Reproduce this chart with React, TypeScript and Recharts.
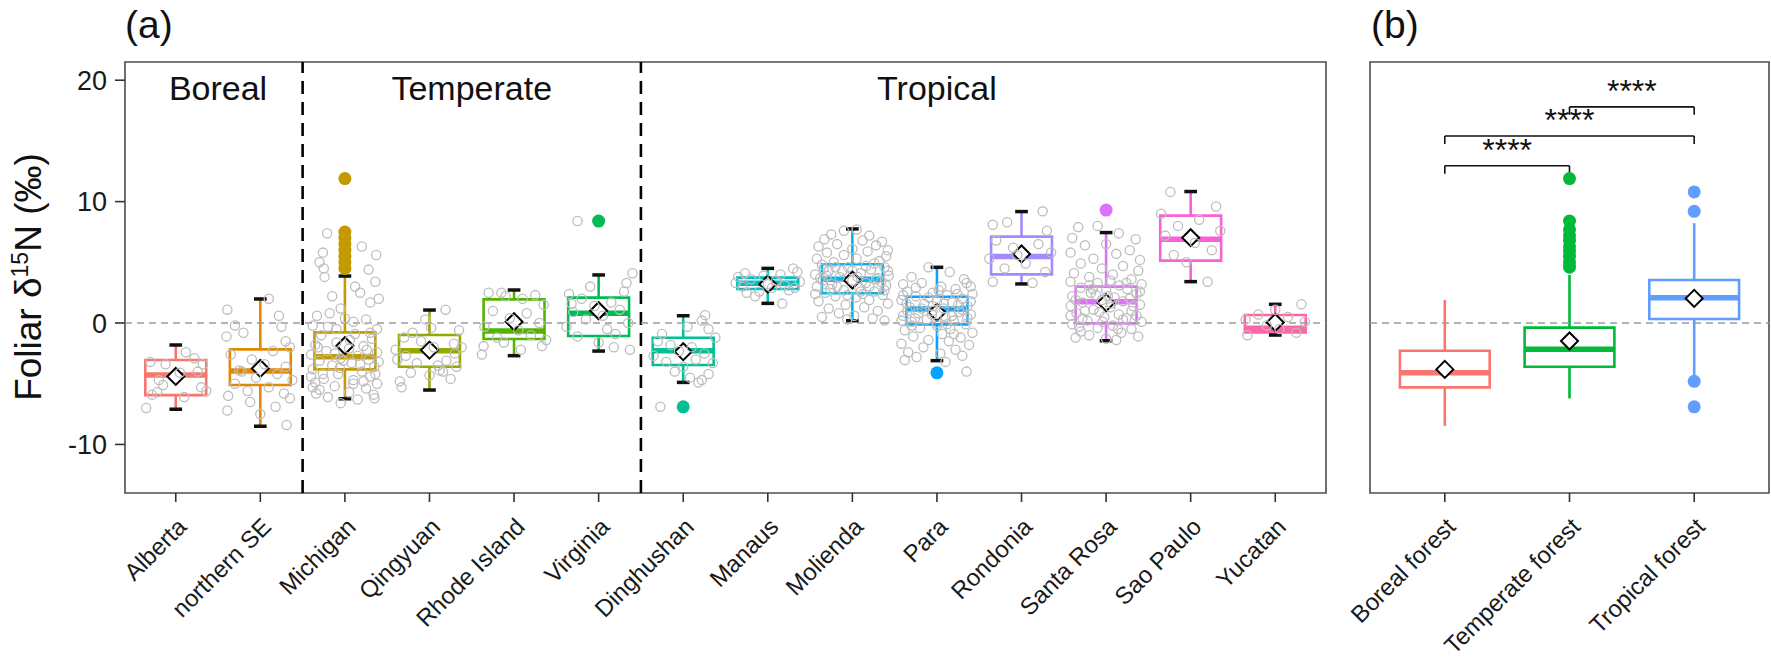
import React from "react";
import {
  ComposedChart,
  XAxis,
  YAxis,
  Scatter,
  ReferenceLine,
  ReferenceArea,
} from "recharts";

const FONT = "'Liberation Sans', Arial, Helvetica, sans-serif";

// ---- panel (a): sites ----
const sites = [
  "Alberta", "northern SE", "Michigan", "Qingyuan", "Rhode Island", "Virginia",
  "Dinghushan", "Manaus", "Molienda", "Para", "Rondonia", "Santa Rosa",
  "Sao Paulo", "Yucatan",
];
const siteColors = [
  "#F8766D", "#E38900", "#C49A00", "#99A800", "#53B400", "#00BC56", "#00C094",
  "#00BFC4", "#00B6EB", "#06A4FF", "#A58AFF", "#DF70F8", "#FB61D7", "#FF66A8",
];
const siteLow = [-7.1, -8.5, -6.24, -5.52, -2.69, -2.31, -4.89, 1.62, 0.19, -3.1, 3.22, -1.46, 3.41, -0.99];
const siteQ1 = [-5.94, -5.11, -3.82, -3.6, -1.32, -1.07, -3.46, 2.8, 2.45, -0.11, 4.01, -0.03, 5.14, -0.77];
const siteMedian = [-4.29, -3.96, -2.77, -2.28, -0.66, 0.8, -2.28, 3.27, 3.6, 1.15, 5.47, 1.76, 6.9, -0.44];
const siteQ3 = [-3.05, -2.17, -0.77, -0.99, 1.95, 2.09, -1.21, 3.74, 4.84, 2.17, 7.12, 3.0, 8.85, 0.66];
const siteHigh = [-1.81, 1.98, 3.87, 1.07, 2.72, 3.96, 0.6, 4.5, 7.75, 4.59, 9.18, 7.45, 10.83, 1.54];
const siteMean = [-4.4, -3.74, -1.87, -2.23, 0.11, 1.01, -2.36, 3.2, 3.54, 0.88, 5.69, 1.68, 7.03, 0.05];

const outlierSite = [3, 3, 3, 3, 3, 3, 3, 3, 6, 7, 10, 12];
const outlierValue = [11.9, 7.5, 7.0, 6.5, 6.0, 5.5, 5.0, 4.5, 8.4, -6.9, -4.1, 9.3];

const regionLabels = ["Boreal", "Temperate", "Tropical"];
const regionX = [1.5, 4.5, 10];
const regionY = [18.4, 18.4, 18.4];
const regionBreaks = [2.5, 6.5];

// raw observations: [offset from site, value]
const jitterAlberta = [
  [-0.35, -7.0], [-0.28, -5.9], [-0.22, -5.7], [0.3, -5.3], [0.36, -5.6], [0.12, -2.4], [0.22, -2.9],
  [-0.12, -3.4], [0.05, -4.1], [-0.2, -4.7], [0.26, -4.0], [-0.15, -5.1], [0.1, -6.1], [-0.3, -3.2], [0.32, -3.4],
];
const jitterNorthernSE = [
  [-0.39, 1.1], [0.1, 2.0], [-0.3, -0.2], [0.22, 0.6], [0.25, -0.3], [-0.4, -1.1], [0.3, -1.5], [-0.2, -0.8],
  [0.35, -2.0], [-0.35, -2.6], [0.15, -2.3], [-0.1, -3.0], [0.05, -3.4], [0.3, -3.6], [-0.25, -3.9], [0.2, -4.2],
  [-0.05, -4.5], [0.38, -4.7], [-0.3, -5.0], [0.1, -5.3], [-0.15, -5.6], [0.28, -5.8], [-0.38, -6.0], [0.35, -6.2],
  [-0.39, -7.2], [0.18, -6.9], [0.31, -8.4], [-0.12, -6.5], [0.0, -7.5], [-0.22, -4.0],
];
const jitterMichigan = [
  [-0.21, 7.4], [-0.26, 5.8], [0.2, 6.3], [0.37, 5.6], [-0.25, 4.5], [-0.24, 3.8], [0.36, 3.4], [0.18, 2.5],
  [0.4, 2.0], [0.3, 1.7], [-0.33, 0.6], [-0.18, 0.8], [-0.05, 1.2], [0.25, 0.3], [0.1, 0.1], [-0.38, -0.2],
  [0.38, -0.5], [-0.28, -1.0], [0.12, -0.9], [0.32, -1.3], [-0.1, -1.6], [-0.35, -1.8], [0.22, -1.9], [0.05, -2.1],
  [-0.22, -2.3], [0.38, -2.4], [-0.4, -2.6], [0.15, -2.7], [-0.05, -2.9], [0.28, -3.0], [-0.3, -3.1], [0.08, -3.3],
  [-0.15, -3.5], [0.35, -3.6], [-0.38, -3.8], [0.2, -4.0], [-0.08, -4.2], [0.3, -4.4], [-0.25, -4.6], [0.1, -4.7],
  [-0.35, -4.9], [0.38, -5.0], [-0.12, -5.2], [0.25, -5.4], [-0.3, -5.5], [0.05, -5.7], [0.34, -5.9], [-0.2, -6.1],
  [0.15, -6.3], [-0.05, -6.6], [0.35, -6.2], [-0.38, -5.3], [0.0, 0.4], [-0.15, 2.2], [0.12, 3.0], [-0.3, 5.0],
  [0.28, 4.4], [-0.1, -0.5], [-0.32, -2.0], [0.26, -2.2], [-0.06, -3.7], [0.18, -3.4], [-0.26, -4.2], [0.4, -3.2],
  [-0.4, -4.4], [0.06, -1.4], [-0.2, -0.3], [0.3, -0.8], [-0.12, -2.5], [0.22, -4.8], [-0.34, -5.8], [0.1, -5.0],
  [0.36, -4.2], [-0.02, -3.1],
];
const jitterQingyuan = [
  [-0.35, -4.8], [-0.33, -5.3], [0.19, 1.1], [0.16, -4.0], [0.29, -1.7], [0.12, -3.9], [-0.3, -1.2], [-0.2, -0.8],
  [0.35, -0.6], [-0.1, -1.5], [0.05, -2.0], [0.3, -2.5], [-0.28, -2.7], [0.2, -3.1], [-0.15, -3.3], [0.1, -3.5],
  [-0.38, -3.0], [0.38, -2.0], [0.0, -4.3], [-0.22, -4.1], [0.25, -4.6], [0.02, -0.4], [-0.05, 0.3], [0.32, -3.6],
  [-0.4, -2.2],
];
const jitterRhodeIsland = [
  [-0.3, 2.5], [-0.15, 2.5], [-0.1, 2.2], [0.1, 2.0], [-0.38, -2.6], [-0.36, -1.9], [0.33, -1.9], [0.25, 2.3],
  [0.35, 1.5], [-0.25, 1.0], [0.15, 0.8], [-0.05, 0.4], [0.3, 0.0], [-0.35, -0.3], [0.05, -0.6], [0.2, -1.0],
  [-0.2, -1.2], [0.38, -1.4], [-0.12, -1.6], [0.08, -2.2],
];
const jitterVirginia = [
  [-0.25, 8.4], [0.4, 4.1], [0.33, 3.3], [0.37, -2.2], [0.3, 2.6], [-0.35, 2.4], [-0.2, 2.0], [0.15, 1.7],
  [-0.05, 1.4], [0.25, 1.1], [-0.3, 0.9], [0.05, 0.6], [-0.15, 0.3], [0.35, 0.0], [-0.38, -0.3], [0.1, -0.5],
  [0.2, -0.9], [-0.25, -1.1], [0.0, -1.6], [-0.1, 3.0], [0.18, -2.0], [-0.32, 1.6],
];
const jitterDinghushan = [
  [0.26, 0.65], [0.22, 0.2], [0.3, -0.5], [0.22, -4.7], [0.08, -4.5], [-0.27, -6.9], [0.38, -1.2], [-0.3, -1.5],
  [-0.15, -1.8], [0.1, -2.0], [-0.05, -2.3], [0.25, -2.5], [-0.35, -2.7], [0.15, -3.0], [-0.2, -3.2], [0.35, -3.3],
  [0.0, -3.6], [-0.1, -4.0], [0.3, -4.2], [-0.25, -0.9], [0.05, -0.3], [0.18, -4.9],
];
const jitterManaus = [
  [-0.27, 4.1], [0.3, 4.5], [0.35, 4.2], [0.17, 1.6], [-0.15, 2.2], [-0.38, 3.3], [-0.3, 3.0], [-0.2, 3.6],
  [-0.05, 3.9], [0.1, 3.5], [0.2, 3.1], [0.38, 3.4], [0.05, 2.9], [-0.1, 2.6], [0.25, 2.7], [-0.35, 3.8],
  [0.15, 4.0], [0.0, 3.2], [-0.25, 2.5], [0.32, 2.9],
];
const jitterMolienda = [
  [-0.33, 6.9], [-0.25, 7.3], [-0.1, 7.6], [0.05, 7.7], [0.2, 7.2], [0.35, 6.7], [-0.4, 6.3], [0.42, 6.0],
  [-0.18, 6.5], [0.12, 6.8], [0.28, 6.4], [-0.3, 5.8], [0.0, 6.1], [0.4, 5.5], [-0.42, 5.3], [-0.1, 5.6],
  [0.18, 5.9], [0.32, 5.1], [-0.22, 5.0], [0.05, 5.3], [-0.36, 4.8], [0.38, 4.6], [-0.05, 4.6], [0.22, 4.4],
  [-0.28, 4.3], [0.1, 4.1], [-0.44, 4.0], [0.43, 3.9], [-0.15, 3.8], [0.3, 3.7], [-0.35, 3.5], [0.0, 3.5],
  [0.16, 3.3], [-0.24, 3.2], [0.4, 3.1], [-0.42, 3.0], [0.08, 2.9], [-0.1, 2.7], [0.26, 2.6], [-0.32, 2.5],
  [0.36, 2.3], [-0.2, 2.2], [0.04, 2.1], [0.2, 1.9], [-0.4, 1.8], [0.42, 1.6], [-0.08, 1.5], [0.14, 1.3],
  [-0.28, 1.2], [0.3, 1.0], [-0.16, 0.8], [0.02, 0.6], [0.24, 0.4], [-0.36, 0.5], [0.38, 0.2], [-0.06, 0.3],
  [-0.3, 3.9], [0.2, 3.0], [-0.2, 4.6], [0.12, 2.4], [-0.38, 3.7], [0.34, 3.4], [-0.12, 4.3], [0.26, 4.9],
  [-0.26, 2.8], [0.06, 3.8], [0.38, 2.7], [-0.44, 2.4], [0.16, 4.7], [-0.06, 2.3], [0.28, 3.6], [-0.18, 3.0],
  [0.42, 4.3], [-0.34, 4.5], [0.0, 4.3], [0.1, 2.6],
];
const jitterPara = [
  [-0.1, 4.6], [0.15, 4.2], [-0.3, 3.8], [0.32, 3.6], [-0.4, 3.2], [0.4, 3.0], [-0.18, 3.3], [0.05, 3.0],
  [0.22, 2.8], [-0.35, 2.6], [0.42, 2.4], [-0.05, 2.5], [0.12, 2.3], [-0.25, 2.2], [0.3, 2.0], [-0.42, 1.9],
  [0.0, 1.8], [0.18, 1.7], [-0.15, 1.6], [0.36, 1.4], [-0.32, 1.3], [0.08, 1.2], [-0.05, 1.0], [0.26, 0.9],
  [-0.22, 0.8], [0.4, 0.7], [-0.4, 0.6], [0.1, 0.5], [-0.12, 0.3], [0.2, 0.2], [-0.3, 0.1], [0.34, -0.1],
  [0.0, -0.2], [-0.2, -0.4], [0.16, -0.5], [-0.38, -0.6], [0.42, -0.8], [0.06, -0.9], [-0.28, -1.1], [0.28, -1.2],
  [-0.1, -1.4], [0.14, -1.5], [-0.42, -1.7], [0.38, -1.8], [-0.16, -2.0], [0.22, -2.2], [-0.34, -2.4], [0.04, -2.5],
  [0.3, -2.7], [-0.24, -2.8], [-0.38, -3.05], [0.35, -4.0], [0.1, -3.2], [-0.05, 1.4], [0.25, 1.5], [-0.35, 1.0],
  [0.0, 0.0], [0.2, -0.9], [-0.25, 2.9], [0.35, 3.3], [-0.36, 1.6], [0.3, 1.1], [-0.1, 2.1], [0.18, 0.6],
  [-0.26, 0.4], [0.4, 1.8], [-0.42, 0.2], [0.08, 1.6], [-0.18, 1.2], [0.24, 2.4], [-0.3, -0.2], [0.12, -0.1],
  [-0.06, 0.7], [0.36, 0.4], [-0.4, 2.3], [0.02, 2.7],
];
const jitterRondonia = [
  [0.25, 9.2], [0.13, 3.3], [-0.34, 8.1], [-0.17, 8.3], [-0.34, 3.4], [0.3, 7.6], [-0.3, 6.8], [0.2, 6.5],
  [-0.1, 6.2], [0.35, 5.8], [-0.38, 5.3], [0.05, 4.9], [-0.2, 4.5], [0.28, 4.2], [-0.05, 5.6],
];
const jitterSantaRosa = [
  [-0.33, 7.9], [-0.1, 8.0], [0.15, 7.4], [-0.4, 7.0], [0.35, 6.9], [0.0, 6.5], [-0.25, 6.4], [0.28, 6.0],
  [-0.42, 5.8], [0.12, 5.7], [-0.15, 5.3], [0.4, 5.2], [-0.3, 4.9], [0.2, 4.7], [-0.05, 4.5], [0.38, 4.3],
  [-0.38, 4.1], [0.08, 4.0], [-0.2, 3.8], [0.3, 3.6], [-0.42, 3.4], [0.42, 3.2], [-0.1, 3.3], [0.16, 3.1],
  [-0.3, 2.9], [0.25, 2.8], [0.0, 2.7], [-0.18, 2.5], [0.36, 2.4], [-0.4, 2.2], [0.1, 2.1], [-0.05, 1.9],
  [0.2, 1.8], [-0.28, 1.7], [0.4, 1.5], [-0.42, 1.4], [0.05, 1.3], [-0.15, 1.1], [0.3, 1.0], [-0.35, 0.8],
  [0.15, 0.7], [-0.02, 0.5], [0.24, 0.4], [-0.22, 0.2], [0.42, 0.1], [-0.4, -0.1], [0.08, -0.2], [-0.1, -0.4],
  [0.3, -0.5], [-0.3, -0.7], [0.18, -0.8], [-0.2, -1.0], [0.38, -1.1], [0.0, -1.3], [-0.36, -1.2], [0.12, -1.4],
  [-0.12, 2.3], [0.28, 2.0], [-0.25, 1.0], [0.05, 3.5], [-0.36, 1.9], [0.32, 1.4], [-0.08, 0.9], [0.2, 0.3],
  [-0.28, 0.4], [0.4, 2.6], [-0.42, 0.6], [0.06, 1.6], [-0.16, 2.8], [0.24, 3.3], [-0.32, -0.3], [0.14, -0.5],
  [-0.04, 0.1], [0.36, 0.6], [-0.2, 3.1], [0.02, 2.2],
];
const jitterSaoPaulo = [
  [-0.24, 10.8], [0.2, 3.4], [0.3, 9.6], [-0.35, 9.0], [0.1, 8.5], [-0.15, 8.0], [0.35, 7.6], [-0.3, 7.2],
  [0.05, 6.6], [0.25, 6.0], [-0.2, 5.6], [-0.05, 5.0],
];
const jitterYucatan = [
  [0.31, 1.55], [-0.33, -1.0], [-0.2, 0.7], [0.15, 0.5], [0.35, 0.1], [-0.1, -0.2], [0.05, -0.5], [0.25, -0.8],
  [-0.35, 0.3], [0.0, 1.1],
];
const jitterBySite = [
  jitterAlberta, jitterNorthernSE, jitterMichigan, jitterQingyuan, jitterRhodeIsland, jitterVirginia,
  jitterDinghushan, jitterManaus, jitterMolienda, jitterPara, jitterRondonia, jitterSantaRosa,
  jitterSaoPaulo, jitterYucatan,
];

// ---- panel (b): forest types ----
const forests = ["Boreal forest", "Temperate forest", "Tropical forest"];
const forestColors = ["#F8766D", "#00BA38", "#619CFF"];
const forestLow = [-8.47, -6.21, -4.4];
const forestQ1 = [-5.3, -3.6, 0.33];
const forestMedian = [-4.1, -2.17, 2.09];
const forestQ3 = [-2.28, -0.38, 3.54];
const forestHigh = [1.9, 3.96, 8.22];
const forestMean = [-3.82, -1.48, 2.03];
const forestOutlierGroup = [2, 2, 2, 2, 2, 2, 2, 2, 2, 2, 3, 3, 3, 3];
const forestOutlierValue = [11.9, 8.4, 7.7, 7.2, 6.8, 6.3, 5.9, 5.5, 5.0, 4.6, 10.8, 9.2, -4.8, -6.9];

const bracketFrom = [1, 1, 2];
const bracketTo = [2, 3, 3];
const bracketY = [12.95, 15.4, 17.8];
const bracketLabel = ["****", "****", "****"];

const yDomain: [number, number] = [-14, 21.5];
const yTicks = [-10, 0, 10, 20];

// ---- derived tables ----
const siteTicks = sites.map((_, i) => i + 1);
const forestTicks = forests.map((_, i) => i + 1);
const siteMeanPts = siteMean.map((v, i) => ({ x: i + 1, y: v }));
const siteOutlierPts = outlierValue.map((v, i) => ({ x: outlierSite[i], y: v, c: siteColors[outlierSite[i] - 1] }));
const jitterPts = jitterBySite.flatMap((pts, i) => pts.map(([dx, v]) => ({ x: i + 1 + dx, y: v })));
const regionPts = regionLabels.map((l, i) => ({ x: regionX[i], y: regionY[i], label: l }));
const forestMeanPts = forestMean.map((v, i) => ({ x: i + 1, y: v }));
const forestOutlierPts = forestOutlierValue.map((v, i) => ({
  x: forestOutlierGroup[i], y: v, c: forestColors[forestOutlierGroup[i] - 1],
}));
const bracketPts = bracketLabel.map((l, i) => ({ x: (bracketFrom[i] + bracketTo[i]) / 2, y: bracketY[i], label: l }));

const HALF = 0.36; // box half width, category units
const CAP = 0.075;
const LEG = 0.65;

const RotTick = ({ x, y, payload, labels }: any) => (
  <g transform={`translate(${x},${y})`}>
    <text
      textAnchor="end"
      transform="rotate(-45)"
      dy="0.72em"
      fontSize={24}
      fill="#1a1a1a"
      fontFamily={FONT}
    >
      {labels[payload.value - 1]}
    </text>
  </g>
);

const Diamond = ({ cx, cy }: any) => (
  <path
    d={`M${cx},${cy - 8.5} L${cx + 8.5},${cy} L${cx},${cy + 8.5} L${cx - 8.5},${cy} Z`}
    fill="#fff"
    stroke="#000"
    strokeWidth={2}
  />
);

const Dot = ({ cx, cy, payload }: any) => <circle cx={cx} cy={cy} r={6.5} fill={payload.c} />;

const OpenCircle = ({ cx, cy }: any) => (
  <circle cx={cx} cy={cy} r={4.6} fill="none" stroke="#bdbdbd" strokeWidth={1.3} />
);

const BigText = ({ cx, cy, payload }: any) => (
  <text x={cx} y={cy} textAnchor="middle" fontSize={34} fill="#111" fontFamily={FONT}>
    {payload.label}
  </text>
);

const Stars = ({ cx, cy, payload }: any) => (
  <text x={cx} y={cy - 5} textAnchor="middle" fontSize={32} fill="#111" fontFamily={FONT}>
    {payload.label}
  </text>
);

const tickLine = { stroke: "#333", strokeWidth: 1.6 };

function boxes(
  low: number[], q1: number[], med: number[], q3: number[], high: number[], colors: string[], caps: boolean,
) {
  const out: React.ReactNode[] = [];
  med.forEach((m, i) => {
    const x = i + 1;
    const c = colors[i];
    out.push(
      <ReferenceLine key={`wu${i}`} segment={[{ x, y: q3[i] }, { x, y: high[i] }]} stroke={c} strokeWidth={2.6} />,
      <ReferenceLine key={`wl${i}`} segment={[{ x, y: low[i] }, { x, y: q1[i] }]} stroke={c} strokeWidth={2.6} />,
      <ReferenceArea
        key={`bx${i}`}
        x1={x - HALF}
        x2={x + HALF}
        y1={q1[i]}
        y2={q3[i]}
        fill="none"
        fillOpacity={0}
        stroke={c}
        strokeWidth={2.6}
      />,
      <ReferenceLine
        key={`md${i}`}
        segment={[{ x: x - HALF, y: m }, { x: x + HALF, y: m }]}
        stroke={c}
        strokeWidth={5.5}
      />,
    );
    if (caps) {
      out.push(
        <ReferenceLine key={`cu${i}`} segment={[{ x: x - CAP, y: high[i] }, { x: x + CAP, y: high[i] }]} stroke="#111" strokeWidth={3.5} />,
        <ReferenceLine key={`cl${i}`} segment={[{ x: x - CAP, y: low[i] }, { x: x + CAP, y: low[i] }]} stroke="#111" strokeWidth={3.5} />,
      );
    }
  });
  return out;
}

export default function App() {
  return (
    <div style={{ position: "absolute", left: 0, top: 0, width: 1771, height: 662, background: "#fff" }}>
      <div style={{ position: "absolute", left: 0, top: 0 }}>
        <ComposedChart width={1340} height={662} margin={{ top: 62, right: 14, bottom: 9, left: 65 }}>
          <XAxis
            dataKey="x"
            type="number"
            domain={[0.4, 14.6]}
            ticks={siteTicks}
            interval={0}
            allowDataOverflow
            height={160}
            tickSize={9}
            tickMargin={14}
            tickLine={tickLine}
            axisLine={false}
            tick={(p: any) => <RotTick {...p} labels={sites} />}
          />
          <YAxis
            type="number"
            domain={yDomain}
            ticks={yTicks}
            allowDataOverflow
            width={60}
            tickSize={10}
            tickMargin={8}
            tickLine={tickLine}
            axisLine={false}
            tick={{ fontSize: 27, fill: "#1a1a1a", fontFamily: FONT }}
          />
          {regionBreaks.map((b) => (
            <ReferenceLine key={`rb${b}`} x={b} stroke="#000" strokeWidth={2.6} strokeDasharray="13 8" />
          ))}
          {boxes(siteLow, siteQ1, siteMedian, siteQ3, siteHigh, siteColors, true)}
          <ReferenceLine y={0} stroke="#9a9a9a" strokeWidth={1.6} strokeDasharray="7 5" />
          <Scatter data={siteOutlierPts} dataKey="y" shape={Dot} isAnimationActive={false} />
          <Scatter data={siteMeanPts} dataKey="y" shape={Diamond} isAnimationActive={false} />
          <Scatter data={jitterPts} dataKey="y" shape={OpenCircle} isAnimationActive={false} />
          <Scatter data={regionPts} dataKey="y" shape={BigText} isAnimationActive={false} />
          <ReferenceArea x1={0.4} x2={14.6} y1={yDomain[0]} y2={yDomain[1]} fill="none" fillOpacity={0} stroke="#4d4d4d" strokeWidth={1.6} />
        </ComposedChart>
      </div>
      <div style={{ position: "absolute", left: 1330, top: 0 }}>
        <ComposedChart width={441} height={662} margin={{ top: 62, right: 2, bottom: 9, left: 10 }}>
          <XAxis
            dataKey="x"
            type="number"
            domain={[0.4, 3.6]}
            ticks={forestTicks}
            interval={0}
            allowDataOverflow
            height={160}
            tickSize={9}
            tickMargin={14}
            tickLine={tickLine}
            axisLine={false}
            tick={(p: any) => <RotTick {...p} labels={forests} />}
          />
          <YAxis
            type="number"
            domain={yDomain}
            ticks={yTicks}
            allowDataOverflow
            width={30}
            tickSize={10}
            tickLine={tickLine}
            axisLine={false}
            tick={false}
          />
          {boxes(forestLow, forestQ1, forestMedian, forestQ3, forestHigh, forestColors, false)}
          <ReferenceLine y={0} stroke="#9a9a9a" strokeWidth={1.6} strokeDasharray="7 5" />
          {bracketFrom.map((f, i) => (
            <React.Fragment key={`br${i}`}>
              <ReferenceLine segment={[{ x: f, y: bracketY[i] }, { x: bracketTo[i], y: bracketY[i] }]} stroke="#111" strokeWidth={1.6} />
              <ReferenceLine segment={[{ x: f, y: bracketY[i] - LEG }, { x: f, y: bracketY[i] }]} stroke="#111" strokeWidth={1.6} />
              <ReferenceLine segment={[{ x: bracketTo[i], y: bracketY[i] - LEG }, { x: bracketTo[i], y: bracketY[i] }]} stroke="#111" strokeWidth={1.6} />
            </React.Fragment>
          ))}
          <Scatter data={forestOutlierPts} dataKey="y" shape={Dot} isAnimationActive={false} />
          <Scatter data={forestMeanPts} dataKey="y" shape={Diamond} isAnimationActive={false} />
          <Scatter data={bracketPts} dataKey="y" shape={Stars} isAnimationActive={false} />
          <ReferenceArea x1={0.4} x2={3.6} y1={yDomain[0]} y2={yDomain[1]} fill="none" fillOpacity={0} stroke="#4d4d4d" strokeWidth={1.6} />
        </ComposedChart>
      </div>
      <svg
        width={1771}
        height={662}
        style={{ position: "absolute", left: 0, top: 0, pointerEvents: "none" }}
      >
        <text x={125} y={38} fontSize={39} fill="#111" fontFamily={FONT}>(a)</text>
        <text x={1371} y={38} fontSize={39} fill="#111" fontFamily={FONT}>(b)</text>
        <text transform="translate(41,277) rotate(-90)" textAnchor="middle" fontSize={37} fill="#111" fontFamily={FONT}>
          Foliar δ<tspan dy={-13} fontSize={23}>15</tspan>
          <tspan dy={13}>N (‰)</tspan>
        </text>
      </svg>
    </div>
  );
}
